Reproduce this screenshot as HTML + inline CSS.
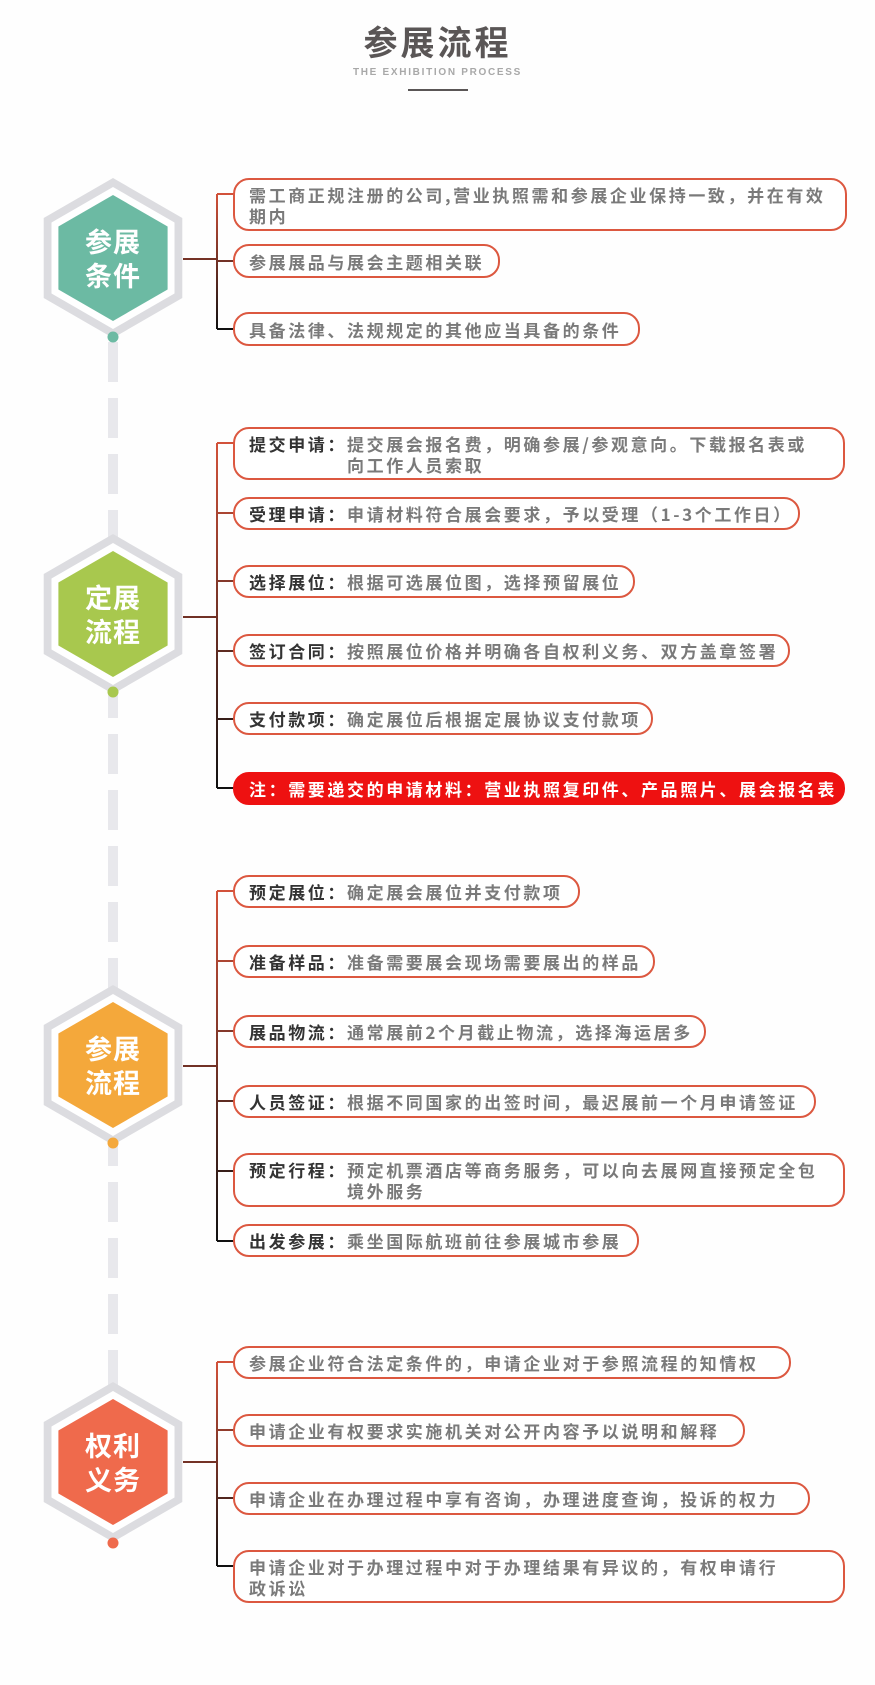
<!DOCTYPE html>
<html><head><meta charset="utf-8">
<style>
html,body{margin:0;padding:0;background:#fefefe;}
body{width:875px;height:1685px;position:relative;overflow:hidden;font-family:"Liberation Sans","Noto Sans CJK SC",sans-serif;}
.t1{position:absolute;left:0;width:875px;top:16px;text-align:center;font-size:34px;font-weight:bold;color:#5a5656;letter-spacing:3px;font-family:"Noto Sans CJK SC",sans-serif;}
.t2{position:absolute;left:0;width:875px;top:67px;text-align:center;font-size:10px;font-weight:bold;color:#a8a8a8;letter-spacing:1.7px;}
.ul{position:absolute;left:408px;top:89px;width:60px;height:2px;background:#5a5656;}
.hx{position:absolute;width:120px;margin-left:-60px;left:113px;text-align:center;color:#fff;font-weight:bold;font-size:27px;line-height:34px;font-family:"Noto Sans CJK SC",sans-serif;letter-spacing:1px;}
.b{position:absolute;left:233px;box-sizing:border-box;border:2px solid #dc5840;border-radius:16px;background:#fff;padding-left:14px;font-size:17px;font-weight:bold;color:#7a7a7a;letter-spacing:2.6px;white-space:nowrap;font-family:"Noto Sans CJK SC",sans-serif;display:flex;align-items:center;line-height:21px;}
.b span.l{color:#333;}
.b .f{display:flex;align-items:flex-start;}
.red{background:#ee1111;border-color:#ee1111;color:#fff;}
</style></head><body>
<svg width="875" height="1685" style="position:absolute;left:0;top:0">
<defs>
<polygon id="hg" points="0,-80 69.3,-40 69.3,40 0,80 -69.3,40 -69.3,-40"/>
<polygon id="hw" points="0,-71 61.5,-35.5 61.5,35.5 0,71 -61.5,35.5 -61.5,-35.5"/>
<polygon id="hc" points="0,-63 54.6,-31.5 54.6,31.5 0,63 -54.6,31.5 -54.6,-31.5"/>
<linearGradient id="g1" gradientUnits="userSpaceOnUse" x1="0" y1="194" x2="0" y2="329"><stop offset="0" stop-color="#d2523a"/><stop offset="1" stop-color="#111"/></linearGradient>
<linearGradient id="g2" gradientUnits="userSpaceOnUse" x1="0" y1="443" x2="0" y2="788"><stop offset="0" stop-color="#d2523a"/><stop offset="1" stop-color="#111"/></linearGradient>
<linearGradient id="g3" gradientUnits="userSpaceOnUse" x1="0" y1="891" x2="0" y2="1241"><stop offset="0" stop-color="#d2523a"/><stop offset="1" stop-color="#111"/></linearGradient>
<linearGradient id="g4" gradientUnits="userSpaceOnUse" x1="0" y1="1362" x2="0" y2="1566"><stop offset="0" stop-color="#d2523a"/><stop offset="1" stop-color="#111"/></linearGradient>
</defs>
<line x1="113" y1="342" x2="113" y2="1385" stroke="#e8e8ec" stroke-width="10" stroke-dasharray="40 16"/>
<g transform="translate(113,258)"><use href="#hg" fill="#dcdce0"/><use href="#hw" fill="#fff"/><use href="#hc" fill="#6cbaa3"/><circle cx="0" cy="79" r="5.5" fill="#6cbaa3"/></g>
<g transform="translate(113,614)"><use href="#hg" fill="#dcdce0"/><use href="#hw" fill="#fff"/><use href="#hc" fill="#a8c84e"/><circle cx="0" cy="78" r="5.5" fill="#a8c84e"/></g>
<g transform="translate(113,1065)"><use href="#hg" fill="#dcdce0"/><use href="#hw" fill="#fff"/><use href="#hc" fill="#f4a83b"/><circle cx="0" cy="78" r="5.5" fill="#f4a83b"/></g>
<g transform="translate(113,1462)"><use href="#hg" fill="#dcdce0"/><use href="#hw" fill="#fff"/><use href="#hc" fill="#ef6a4c"/><circle cx="0" cy="81" r="5.5" fill="#ef6a4c"/></g>
<g fill="none" stroke="url(#g1)" stroke-width="2">
<path d="M183 259H217M217 194V329M217 194H234M217 261H234M217 329H234"/></g>
<g fill="none" stroke="url(#g2)" stroke-width="2">
<path d="M183 617H217M217 443V788M217 443H234M217 513H234M217 581H234M217 651H234M217 719H234M217 788H234"/></g>
<g fill="none" stroke="url(#g3)" stroke-width="2">
<path d="M183 1066H217M217 891V1241M217 891H234M217 961H234M217 1031H234M217 1101H234M217 1171H234M217 1241H234"/></g>
<g fill="none" stroke="url(#g4)" stroke-width="2">
<path d="M183 1462H217M217 1362V1566M217 1362H234M217 1430H234M217 1498H234M217 1566H234"/></g>
</svg>

<div class="t1">参展流程</div>
<div class="t2">THE EXHIBITION PROCESS</div>
<div class="ul"></div>

<div class="hx" style="top:224px">参展<br>条件</div>
<div class="hx" style="top:580px">定展<br>流程</div>
<div class="hx" style="top:1031px">参展<br>流程</div>
<div class="hx" style="top:1428px">权利<br>义务</div>

<div class="b" style="top:178px;height:53px;width:614px">需工商正规注册的公司,营业执照需和参展企业保持一致，并在有效<br>期内</div>
<div class="b" style="top:244px;height:34px;width:267px">参展展品与展会主题相关联</div>
<div class="b" style="top:312px;height:34px;width:407px">具备法律、法规规定的其他应当具备的条件</div>

<div class="b" style="top:427px;height:53px;width:612px"><div class="f"><span class="l">提交申请：</span><span>提交展会报名费，明确参展/参观意向。下载报名表或<br>向工作人员索取</span></div></div>
<div class="b" style="top:497px;height:33px;width:567px"><span class="l">受理申请：</span>申请材料符合展会要求，予以受理（1-3个工作日）</div>
<div class="b" style="top:565px;height:33px;width:402px"><span class="l">选择展位：</span>根据可选展位图，选择预留展位</div>
<div class="b" style="top:634px;height:33px;width:557px"><span class="l">签订合同：</span>按照展位价格并明确各自权利义务、双方盖章签署</div>
<div class="b" style="top:702px;height:33px;width:420px"><span class="l">支付款项：</span>确定展位后根据定展协议支付款项</div>
<div class="b red" style="top:772px;height:33px;width:612px">注：需要递交的申请材料：营业执照复印件、产品照片、展会报名表</div>

<div class="b" style="top:875px;height:33px;width:347px"><span class="l">预定展位：</span>确定展会展位并支付款项</div>
<div class="b" style="top:945px;height:33px;width:422px"><span class="l">准备样品：</span>准备需要展会现场需要展出的样品</div>
<div class="b" style="top:1015px;height:33px;width:473px"><span class="l">展品物流：</span>通常展前2个月截止物流，选择海运居多</div>
<div class="b" style="top:1085px;height:33px;width:583px"><span class="l">人员签证：</span>根据不同国家的出签时间，最迟展前一个月申请签证</div>
<div class="b" style="top:1153px;height:54px;width:612px"><div class="f"><span class="l">预定行程：</span><span>预定机票酒店等商务服务，可以向去展网直接预定全包<br>境外服务</span></div></div>
<div class="b" style="top:1224px;height:33px;width:406px"><span class="l">出发参展：</span>乘坐国际航班前往参展城市参展</div>

<div class="b" style="top:1346px;height:33px;width:558px">参展企业符合法定条件的，申请企业对于参照流程的知情权</div>
<div class="b" style="top:1414px;height:33px;width:512px">申请企业有权要求实施机关对公开内容予以说明和解释</div>
<div class="b" style="top:1482px;height:33px;width:577px">申请企业在办理过程中享有咨询，办理进度查询，投诉的权力</div>
<div class="b" style="top:1550px;height:53px;width:612px">申请企业对于办理过程中对于办理结果有异议的，有权申请行<br>政诉讼</div>
</body></html>
